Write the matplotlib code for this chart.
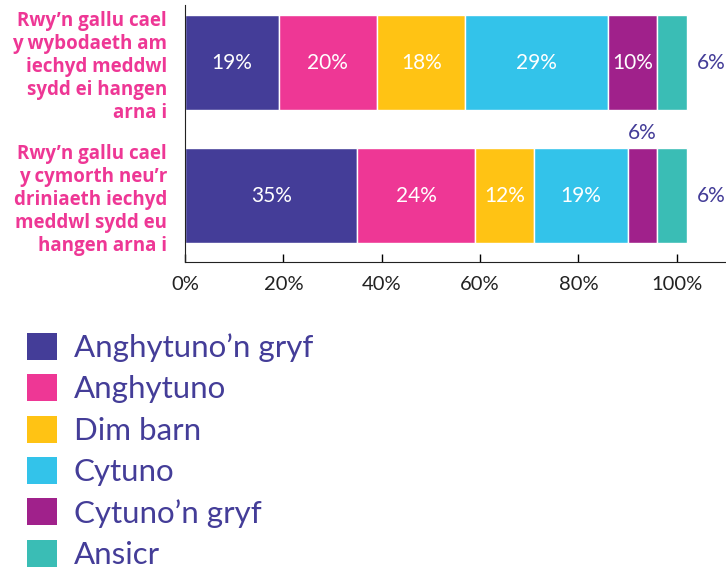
import numpy as np
import matplotlib
matplotlib.use('Agg')
import matplotlib.pyplot as plt
from matplotlib.patches import Patch

# data
questions = ["Rwy\u2019n gallu cael\ny wybodaeth am\niechyd meddwl\nsydd ei hangen\narna i",
             "Rwy\u2019n gallu cael\ny cymorth neu\u2019r\ndriniaeth iechyd\nmeddwl sydd eu\nhangen arna i"]
responses = ["Anghytuno\u2019n gryf", "Anghytuno", "Dim barn", "Cytuno", "Cytuno\u2019n gryf", "Ansicr"]
row1 = [19, 20, 18, 29, 10, 6]
row2 = [35, 24, 12, 19, 6, 6]
colors = ["#443D98", "#EE3795", "#FFC314", "#33C3EA", "#A0218B", "#3ABDB5"]
xticks = [0, 20, 40, 60, 80, 100]

text_purple = "#443D98"
plt.rcParams['font.family'] = ['Lato', 'DejaVu Sans']

fig = plt.figure(figsize=(7.26, 5.75), dpi=100)
ax = fig.add_axes([0.255, 0.544, 0.745, 0.447])

data = np.array([row1, row2])
ypos = np.arange(len(questions))
left = np.zeros(len(questions))
for j, resp in enumerate(responses):
    vals = data[:, j]
    ax.barh(ypos, vals, left=left, height=0.714, color=colors[j],
            edgecolor='white', linewidth=1, label=resp)
    for i, v in enumerate(vals):
        cx = left[i] + v / 2
        if j == len(responses) - 1:
            # Ansicr label sits outside the bar
            ax.text(left[i] + v + 5, ypos[i], f"{v}%", ha='center', va='center',
                    color=text_purple, fontsize=15)
        elif v < 8:
            ax.text(cx, ypos[i] - 0.357 - 0.04, f"{v}%", ha='center', va='bottom',
                    color=text_purple, fontsize=15)
        else:
            ax.text(cx, ypos[i], f"{v}%", ha='center', va='center',
                    color='white', fontsize=15)
    left += vals

ax.set_xlim(0, 110)
ax.set_ylim(1.5, -0.432)
ax.set_xticks(xticks)
ax.set_xticklabels([f"{t}%" for t in xticks], fontsize=14.5, color='#222222')
ax.tick_params(axis='x', direction='in', length=6, width=1, pad=10)
ax.set_yticks(ypos)
ax.set_yticklabels(questions, fontsize=13.5, fontweight='bold', color="#EE3795",
                   ha='right', linespacing=1.2, family=['Open Sans', 'DejaVu Sans'])
ax.tick_params(axis='y', length=0, pad=13)
for s in ['top', 'right']:
    ax.spines[s].set_visible(False)
ax.spines['left'].set_color('#222222')
ax.spines['bottom'].set_color('#222222')

handles = [Patch(facecolor=c, edgecolor='none') for c in colors]
leg = fig.legend(handles, responses, loc='upper left', bbox_to_anchor=(0.02, 0.443),
                 frameon=False, fontsize=22.5, handlelength=0.95, handleheight=0.95,
                 handletextpad=0.55, labelspacing=0.39, borderaxespad=0)
for t in leg.get_texts():
    t.set_color(text_purple)

fig.savefig('out.png', dpi=100)
